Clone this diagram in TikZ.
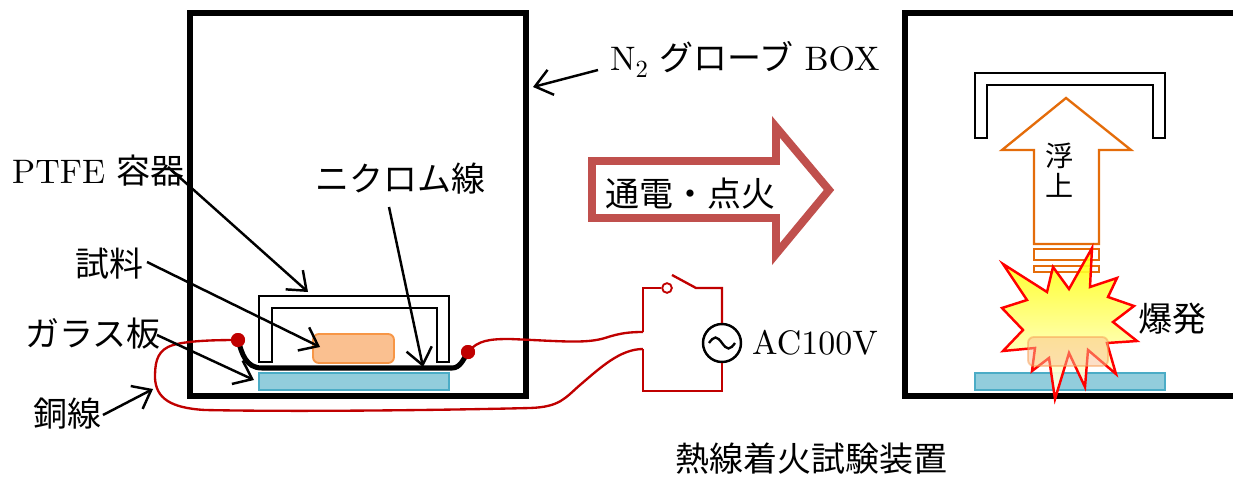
\documentclass[tikz,border=0pt]{standalone}
\usepackage{fontspec}
\setmainfont{lmroman10-regular.otf}
\newfontfamily\jp{Noto Sans CJK JP}
\usetikzlibrary{arrows.meta}
\definecolor{wirered}{HTML}{C00000}
\definecolor{samplefill}{HTML}{FAC090}
\definecolor{sampleline}{HTML}{F79646}
\definecolor{glassfill}{HTML}{92CDDC}
\definecolor{glassline}{HTML}{4BACC6}
\definecolor{bigarrow}{HTML}{C0504D}
\definecolor{liftarrow}{HTML}{E46C0A}
\tikzset{
  wall/.style={line width=4.7pt, line cap=rect},
  ptfe/.style={draw=black, fill=white, line width=1.7pt, line join=miter},
  sample/.style={draw=sampleline, fill=samplefill, line width=1.6pt, rounded corners=5},
  glass/.style={draw=glassline, fill=glassfill, line width=1.6pt},
  heater/.style={line width=4.3pt, line cap=round},
  wire/.style={draw=wirered, line width=2pt},
  terminal/.style={circle, fill=wirered, inner sep=0pt, minimum size=0.42cm},
  ptr/.style={line width=2.1pt, -{Straight Barb[length=14pt,width=22pt,line join=miter]}},
  lbl/.style={inner sep=0pt, anchor=base west, font=\fontsize{29}{34}\selectfont},
  small/.style={inner sep=0pt, anchor=base, font=\fontsize{24}{28}\selectfont\jp},
}
\begin{document}
\begin{tikzpicture}[x=0.03cm, y=-0.03cm]
\useasboundingbox (0,0) rectangle (1233,476);

% glove boxes
\draw[wall] (190,13) rectangle (526,396);
\draw[wall, line cap=butt] (1240,13) -- (905,13) -- (905,396) -- (1240,396);

% left apparatus: PTFE cover, sample, glass plate
\draw[ptfe] (259,362) -- (259,296) -- (449,296) -- (449,362) -- (437,362)
  -- (437,308) -- (272,308) -- (272,362) -- cycle;
\draw[sample] (313,334) rectangle (394,363);
\draw[glass] (259,373) rectangle (449,390);

% terminals and heater wire
\node[terminal] (dotL) at (238,340) {};
\node[terminal] (dotR) at (468,352) {};
\draw[heater] (dotL.center) .. controls (242,354) and (246,368) .. (262,368)
  -- (452,368) .. controls (460,368) and (463,360) .. (dotR.center);

% power circuit
\coordinate (inTop) at (643,332);
\coordinate (inBot) at (643,349);
\coordinate (swL) at (643,288);
\node[circle, draw=wirered, line width=1.6pt, minimum size=0.29cm, inner sep=0pt] (contact) at (667,288) {};
\coordinate (blade) at (672,275);
\coordinate (pivot) at (696,288);
\coordinate (swR) at (722,288);
\node[circle, draw=black, line width=2.1pt, minimum size=1.14cm, inner sep=0pt, fill=white] (ac) at (722,343) {};
\coordinate (cBR) at (722,391);
\coordinate (cBL) at (643,391);
\draw[wire] (inTop) -- (swL) -- (contact.west);
\draw[wire] (blade) -- (pivot) -- (swR) -- (ac.north);
\draw[wire] (ac.south) -- (cBR) -- (cBL) -- (inBot);
\draw[line width=2pt] (709,343) sin (715.5,337.5) cos (722,343) sin (728.5,348.5) cos (735,343);

% copper leads
\draw[wire] (dotR.center) .. controls (478,340) and (490,339) .. (510,339)
  .. controls (560,341) and (585,344) .. (605,338) .. controls (620,333) and (630,332) .. (inTop);
\draw[wire] (dotL.center) .. controls (210,340) and (180,341) .. (168,347)
  .. controls (156,353) and (155,365) .. (155,378)
  .. controls (156,398) and (170,408) .. (205,410)
  .. controls (300,412) and (450,410) .. (530,408)
  .. controls (560,407) and (565,398) .. (580,385)
  .. controls (600,368) and (620,349) .. (inBot);
\node[terminal] at (dotL) {};
\node[terminal] at (dotR) {};

% labels
\node[lbl] (lPTFE) at (12,183) {PTFE {\jp 容器}};
\node[lbl] (lNi) at (315,191) {\jp ニクロム線};
\node[lbl] (lSample) at (75,276) {\jp 試料};
\node[lbl] (lGlass) at (25,346) {\jp ガラス板};
\node[lbl] (lCu) at (33,426) {\jp 銅線};
\node[lbl] (lBox) at (610,70) {N\raisebox{-0.22em}{\fontsize{21}{21}\selectfont 2} {\jp グローブ} BOX};
\node[lbl] (lAC) at (752,354) {AC100V};
\node[lbl] (lTitle) at (675,471) {\jp 熱線着火試験装置};

% pointer arrows
\coordinate (pPTFEa) at (168,167);
\coordinate (pPTFEb) at (308,292);
\coordinate (pSampa) at (147,262);
\coordinate (pSampb) at (320,347);
\coordinate (pGlassa) at (157,335);
\coordinate (pGlassb) at (254,380);
\coordinate (pNia) at (389,207);
\coordinate (pNib) at (423,367);
\coordinate (pCua) at (103,415);
\coordinate (pCub) at (153,389);
\coordinate (pBoxa) at (598,70);
\coordinate (pBoxb) at (533,87);
\draw[ptr] (pPTFEa) -- (pPTFEb);
\draw[ptr] (pSampa) -- (pSampb);
\draw[ptr] (pGlassa) -- (pGlassb);
\draw[ptr] (pNia) -- (pNib);
\draw[ptr] (pCua) -- (pCub);
\draw[ptr] (pBoxa) -- (pBoxb);

% process arrow
\draw[draw=bigarrow, fill=white, line width=6.8pt, line join=miter]
  (592,161) -- (776,161) -- (776,127) -- (829,190) -- (776,254) -- (776,218) -- (592,218) -- cycle;
\node[lbl] (lFire) at (605,206) {\jp 通電・点火};

% right apparatus after ignition
\draw[ptfe] (975,138) -- (975,73) -- (1165,73) -- (1165,138) -- (1153,138)
  -- (1153,85) -- (987,85) -- (987,138) -- cycle;
\draw[draw=liftarrow, fill=white, line width=2pt, line join=miter]
  (1034,244) -- (1034,150) -- (1002,150) -- (1066,98) -- (1131,150) -- (1099,150) -- (1099,244) -- cycle;
\draw[draw=liftarrow, line width=2pt] (1034,249) rectangle (1099,260);
\draw[draw=liftarrow, line width=2pt] (1034,266) rectangle (1099,272);
\node[small] (lFu) at (1060,166) {浮};
\node[small] (lJo) at (1060,196) {上};
\draw[glass] (975,373) rectangle (1165,390);
\path[draw=red, line width=2.1pt, line join=miter, top color=yellow, bottom color=white, fill opacity=0.9]
  (1003,264) -- (1047,292) -- (1053,267) -- (1069,289) -- (1092,248) -- (1090,287)
  -- (1117,278) -- (1108,297) -- (1134,306) -- (1113,322) -- (1137,341) -- (1107,343)
  -- (1116,374) -- (1088,350) -- (1085,387) -- (1069,353) -- (1055,399) -- (1049,358)
  -- (1032,371) -- (1035,348) -- (1003,351) -- (1023,330) -- (1002,308) -- (1027,300) -- cycle;
\draw[sample, fill opacity=0.5, draw opacity=0.45] (1028,337) rectangle (1108,366);
\node[lbl] (lBoom) at (1138,331) {\jp 爆発};
\end{tikzpicture}
\end{document}
